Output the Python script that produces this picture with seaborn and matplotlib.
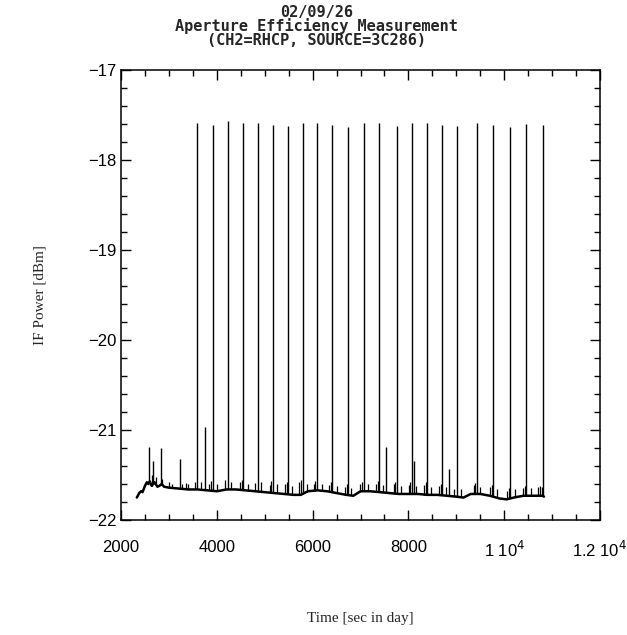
"""
Aperture efficiency measurement - IF power trace (CH2=RHCP, 3C286)
"""

import matplotlib
matplotlib.use("Agg")

import numpy as np
import pandas as pd
import matplotlib.pyplot as plt
from matplotlib.ticker import MultipleLocator
import seaborn as sns

# =========================
# DATA
# =========================
# slow baseline of the trace [sec, dBm]
base_t = [2330, 2380, 2420, 2450, 2500, 2540, 2570, 2600, 2640, 2700, 2760, 2800,
          2850, 2900, 3000, 3200, 3400, 3600, 3800, 4000, 4200, 4400, 4600, 4800,
          5000, 5200, 5400, 5600, 5750, 5900, 6100, 6300, 6500, 6700, 6850, 7000,
          7200, 7400, 7600, 7800, 8000, 8200, 8400, 8600, 8800, 9000, 9150, 9300,
          9500, 9700, 9900, 10050, 10200, 10400, 10600, 10800, 10830]
base_v = [-21.75, -21.70, -21.68, -21.69, -21.62, -21.58, -21.60, -21.57, -21.62, -21.58,
          -21.63, -21.62, -21.60, -21.63, -21.64, -21.65, -21.66, -21.66, -21.67, -21.68,
          -21.66, -21.66, -21.67, -21.68, -21.69, -21.70, -21.71, -21.72, -21.72, -21.68,
          -21.67, -21.68, -21.70, -21.72, -21.73, -21.68, -21.68, -21.69, -21.70, -21.71,
          -21.71, -21.71, -21.72, -21.72, -21.73, -21.74, -21.75, -21.71, -21.71, -21.73,
          -21.76, -21.77, -21.75, -21.73, -21.73, -21.73, -21.74]

# on-source spikes
spike_t = [3595, 3930, 4243, 4557, 4867, 5183, 5490, 5795, 6097, 6410, 6734, 7071,
           7395, 7761, 8075, 8389, 8702, 9016, 9433, 9768, 10130, 10464, 10809]
spike_top = [-17.59, -17.61, -17.57, -17.59, -17.59, -17.61, -17.62, -17.59, -17.59,
             -17.61, -17.63, -17.59, -17.59, -17.62, -17.59, -17.59, -17.61, -17.62,
             -17.59, -17.61, -17.63, -17.60, -17.61]

# smaller secondary spikes
sub_t = [2586, 2676, 2830, 3234, 3757, 7523, 8115, 8848]
sub_top = [-21.19, -21.34, -21.20, -21.32, -20.97, -21.19, -21.34, -21.43]

# little bumps (noise) on the baseline
bump_t = [2640, 2720, 2860, 3000, 3060, 3280, 3350, 3400, 3540, 3660, 3830, 3880,
          4000, 4180, 4300, 4480, 4520, 4650, 4800, 4920, 5100, 5140, 5250, 5430,
          5460, 5560, 5720, 5760, 5880, 6030, 6060, 6200, 6350, 6380, 6500, 6680,
          6710, 6800, 6980, 7030, 7150, 7330, 7360, 7470, 7700, 7730, 7850, 8010,
          8040, 8160, 8330, 8360, 8480, 8640, 8670, 8780, 8960, 9100, 9370, 9400,
          9500, 9700, 9740, 9850, 10060, 10100, 10230, 10400, 10430, 10550, 10700,
          10750, 10780]
bump_top = [-21.50, -21.52, -21.54, -21.58, -21.60, -21.60, -21.59, -21.60, -21.58,
            -21.58, -21.60, -21.57, -21.60, -21.56, -21.58, -21.58, -21.56, -21.60,
            -21.59, -21.58, -21.61, -21.57, -21.60, -21.60, -21.58, -21.62, -21.58,
            -21.56, -21.60, -21.60, -21.57, -21.60, -21.61, -21.58, -21.62, -21.63,
            -21.60, -21.64, -21.60, -21.58, -21.60, -21.60, -21.57, -21.61, -21.60,
            -21.58, -21.62, -21.61, -21.58, -21.62, -21.61, -21.58, -21.63, -21.62,
            -21.60, -21.63, -21.65, -21.66, -21.61, -21.59, -21.63, -21.63, -21.61,
            -21.66, -21.68, -21.64, -21.66, -21.64, -21.62, -21.64, -21.63, -21.62,
            -21.63]

xtick_pos = [2000, 4000, 6000, 8000, 10000, 12000]
xtick_labels = ["2000", "4000", "6000", "8000", "1 10$^4$", "1.2 10$^4$"]
ytick_pos = [-22, -21, -20, -19, -18, -17]
ytick_labels = ["\u221222", "\u221221", "\u221220", "\u221219", "\u221218", "\u221217"]

title_lines = ["02/09/26",
               "Aperture Efficiency Measurement",
               "(CH2=RHCP, SOURCE=3C286)"]

# =========================
# STYLE
# =========================
sns.set_style("ticks")
TICK_FONT = ["Liberation Sans Narrow", "Liberation Sans", "DejaVu Sans"]
plt.rcParams["font.family"] = TICK_FONT
plt.rcParams["mathtext.fontset"] = "custom"
plt.rcParams["mathtext.rm"] = "Liberation Sans Narrow"
plt.rcParams["mathtext.it"] = "Liberation Sans Narrow"
plt.rcParams["mathtext.bf"] = "Liberation Sans Narrow"

fig = plt.figure(figsize=(6.27, 6.35), dpi=100)
ax = fig.add_axes([0.193, 0.181, 0.764, 0.709])

# -------- baseline
df_base = pd.DataFrame({"t": base_t, "v": base_v})
sns.lineplot(data=df_base, x="t", y="v", color="black", lw=1.8,
             estimator=None, sort=False, ax=ax)

# -------- spikes anchored on the baseline
def anchor(ts):
    return np.interp(ts, base_t, base_v)

ax.vlines(spike_t, anchor(spike_t), spike_top, color="black", lw=1.0)
ax.vlines(sub_t, anchor(sub_t), sub_top, color="black", lw=1.0)
ax.vlines(bump_t, anchor(bump_t), bump_top, color="black", lw=0.9)

# -------- axes
ax.set_xlim(2000, 12000)
ax.set_ylim(-22, -17)
ax.set_xticks(xtick_pos, labels=xtick_labels)
ax.set_yticks(ytick_pos, labels=ytick_labels)
ax.xaxis.set_minor_locator(MultipleLocator(500))
ax.yaxis.set_minor_locator(MultipleLocator(0.2))
ax.tick_params(which="both", direction="in", top=True, right=True,
               width=1.0, color="black", labelsize=12, labelcolor="black")
ax.tick_params(which="major", length=7)
ax.tick_params(which="minor", length=4)
ax.tick_params(axis="x", which="major", pad=14)
ax.tick_params(axis="y", which="major", pad=3)
for sp in ax.spines.values():
    sp.set_visible(True)
    sp.set_linewidth(1.1)
    sp.set_color("black")

ax.set_xlabel("Time [sec in day]", family="Liberation Serif", fontsize=11, labelpad=38)
ax.set_ylabel("IF Power [dBm]", family="Liberation Serif", fontsize=11, labelpad=30)

# -------- title (monospace, bold), one block of three lines
fig.text(0.505, 0.992, "\n".join(title_lines), ha="center", va="top",
         multialignment="center", linespacing=0.86,
         family="DejaVu Sans Mono", fontweight="bold", fontsize=11)

fig.savefig("out.png", dpi=100)
plt.close(fig)
